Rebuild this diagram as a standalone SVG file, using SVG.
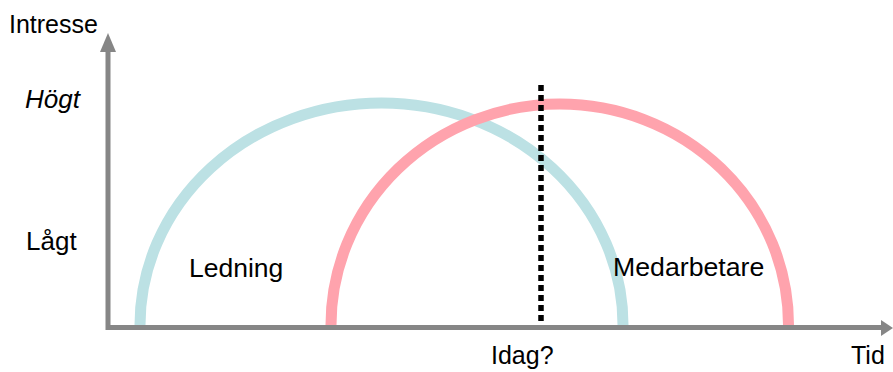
<svg xmlns="http://www.w3.org/2000/svg" width="893" height="372" viewBox="0 0 893 372">
<style>
text{font-family:"Liberation Sans",Arial,sans-serif;fill:#000}
.axis{stroke:#868686;stroke-width:5;fill:none}
.head{fill:#868686}
.arc{fill:none;stroke-width:11}
</style>
<rect width="893" height="372" fill="#fff"/>
<g id="curves">
<path id="ledning-curve" class="arc" stroke="#bce1e4" d="M140,325 A241.5,222 0 0 1 623,325"/>
<path id="medarbetare-curve" class="arc" stroke="#ffa3ad" d="M331,325 A228.75,221 0 0 1 788.5,325"/>
</g>
<g id="connectors">
<path class="axis" d="M108,50 V327.5 H883"/>
<polygon class="head" points="108,33 100,52 116,52"/>
<polygon class="head" points="893,328 881,320 881,336"/>
<line x1="541" y1="85" x2="541" y2="325" stroke="#000" stroke-width="5.5" stroke-dasharray="6 4"/>
</g>
<g id="labels">
<text x="9" y="33" font-size="25">Intresse</text>
<text x="25" y="108" font-size="26" font-style="italic">Högt</text>
<text x="26" y="250" font-size="26">Lågt</text>
<text x="189" y="277" font-size="26.5">Ledning</text>
<text x="613" y="276" font-size="26.7">Medarbetare</text>
<text x="491" y="364" font-size="25">Idag?</text>
<text x="851" y="364" font-size="25">Tid</text>
</g>
</svg>
